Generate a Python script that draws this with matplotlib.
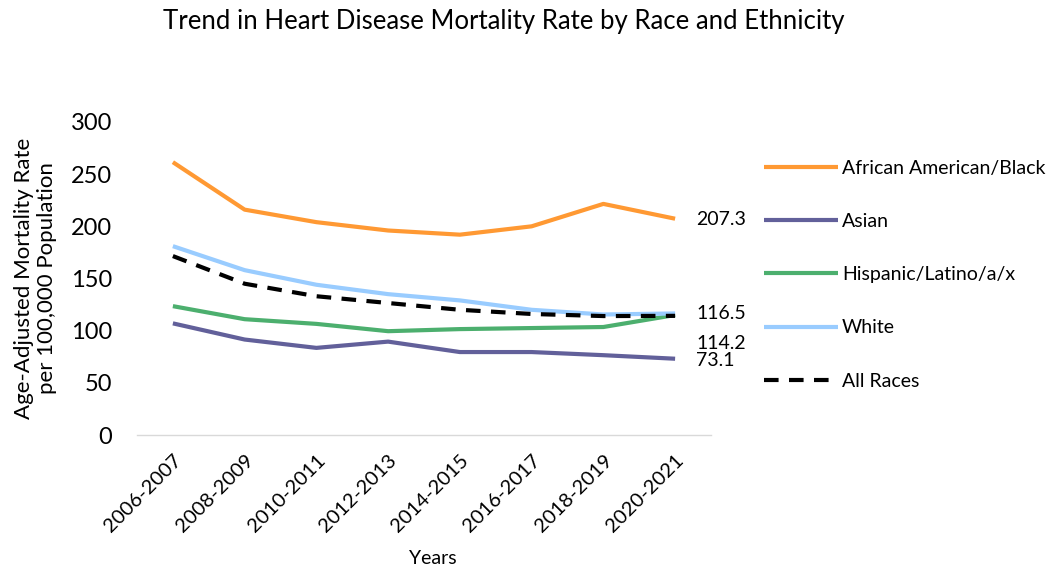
#plot.py
#heart disease mortality trend by race and ethnicity
import matplotlib.pyplot as plt
import numpy as np

plt.rcParams['font.family'] = ['Lato', 'DejaVu Sans']

years = ["2006-2007", "2008-2009", "2010-2011", "2012-2013",
         "2014-2015", "2016-2017", "2018-2019", "2020-2021"]

black = [261.5, 216.0, 204.0, 196.0, 192.0, 200.0, 221.5, 207.3]
asian = [107.0, 91.5, 83.5, 89.5, 79.5, 79.5, 76.5, 73.1]
hispanic = [123.5, 111.0, 106.5, 99.5, 101.5, 102.5, 103.5, 115.0]
white = [181.0, 158.0, 144.0, 135.0, 129.0, 120.0, 115.5, 116.5]
all_races = [171.5, 145.0, 133.0, 126.5, 120.0, 116.0, 114.0, 114.2]

series = [
    ("African American/Black", black, "#ff9933", "-"),
    ("Asian", asian, "#62609a", "-"),
    ("Hispanic/Latino/a/x", hispanic, "#4caf6e", "-"),
    ("White", white, "#99ccff", "-"),
    ("All Races", all_races, "black", (0, (3.5, 2.5))),
]

fig = plt.figure(figsize=(10.58, 5.69), dpi=100)
ax = fig.add_axes([0.1295, 0.2355, 0.5425, 0.5501])

x = np.arange(len(years))
for name, vals, col, ls in series:
    ax.plot(x, vals, color=col, lw=3, linestyle=ls, label=name,
            solid_capstyle="butt", dash_capstyle="butt")

#end labels (pixel offsets from the last point)
ends = [(black[-1], -1), (white[-1], 0), (all_races[-1], -28), (asian[-1], -2)]
for v, dy in ends:
    ax.annotate(f"{v:.1f}", (x[-1], v), xytext=(21, dy), textcoords="offset pixels",
                va="center", ha="left", fontsize=14)

ax.set_xlim(-0.5, len(years) - 0.5)
ax.set_ylim(0, 300)
ax.set_yticks(range(0, 301, 50))
ax.set_xticks(x)
ax.set_xticklabels(years, rotation=45, ha="right", rotation_mode="anchor", fontsize=14.5)
ax.tick_params(axis="y", labelsize=17, length=0, pad=18)
ax.tick_params(axis="x", length=0, pad=12)

for s in ["top", "right", "left"]:
    ax.spines[s].set_visible(False)
ax.spines["bottom"].set_color("#d9d9d9")
ax.spines["bottom"].set_linewidth(1)

ax.set_ylabel("Age-Adjusted Mortality Rate\nper 100,000 Population", fontsize=16,
              labelpad=10, linespacing=1.2)
fig.text(0.409, 0.003, "Years", fontsize=14, ha="center", va="bottom")
fig.text(0.476, 0.963, "Trend in Heart Disease Mortality Rate by Race and Ethnicity",
         fontsize=18.5, ha="center", va="center")

leg = ax.legend(loc="upper left", bbox_to_anchor=(1.062, 0.935), frameon=False,
                fontsize=14, handlelength=3.8, handletextpad=0.2, labelspacing=1.86)

fig.savefig("out.png", dpi=100)
